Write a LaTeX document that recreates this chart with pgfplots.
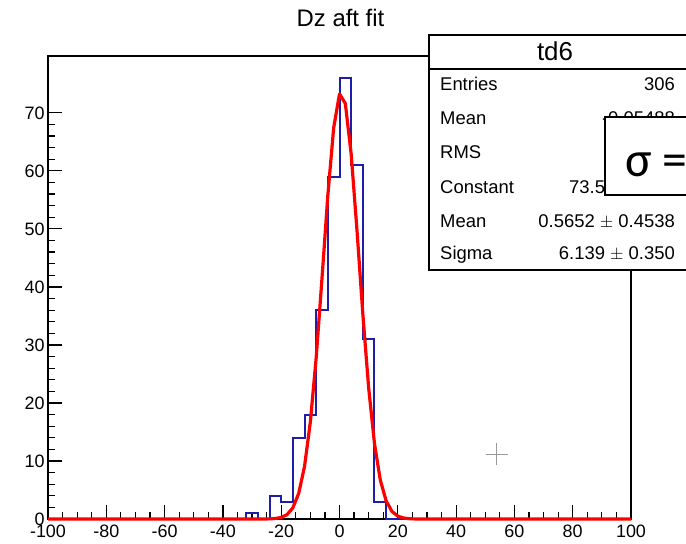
\documentclass[border=0pt]{standalone}
\usepackage{pgfplots}
\pgfplotsset{compat=1.18}
\usepackage{fontspec}
\setmainfont{Liberation Sans}
\newfontfamily\calib{Carlito}
\definecolor{hblue}{RGB}{30,30,170}
\begin{document}
\begin{tikzpicture}[x=1bp,y=1bp]
\path[use as bounding box] (0,0) rectangle (686,544);
\clip (0,0) rectangle (686,544);
\begin{axis}[
  at={(48bp,25bp)}, anchor=south west,
  scale only axis, width=583bp, height=463bp,
  xmin=-100, xmax=100, ymin=0, ymax=79.8,
  xtick={-100,-80,...,100}, ytick={0,10,...,70},
  minor x tick num=3, minor y tick num=4,
  tick align=inside, xtick pos=lower, ytick pos=left,
  major tick length=14bp, minor tick length=7bp,
  every tick/.style={black, line width=1.2bp},
  axis line style={line width=1.3bp},
  /pgf/number format/assume math mode=true,
  ticklabel style={font=\fontsize{18}{20}\selectfont},
  xticklabel style={yshift=-2bp},
  clip=false, axis on top=false,
]
\addplot[const plot, hblue, line width=2bp] coordinates {
(-100,0) (-32,1) (-28,0) (-24,4) (-20,3) (-16,14) (-12,18) (-8,36) (-4,59)
(0,76) (4,61) (8,31) (12,3) (16,0) (100,0)};
\addplot[red, line width=3.2bp, line join=round] coordinates {
(-100,0) (-26,0.005) (-24,0.0245) (-22,0.0857) (-20,0.269) (-18,0.760) (-16,1.931)
(-14,4.410) (-12,9.058) (-10,16.73) (-8,27.80) (-6,41.54) (-4,55.80)
(-2,67.43) (0,73.27) (2,71.60) (4,62.92) (6,49.73) (8,35.34) (10,22.59)
(12,12.98) (14,6.711) (16,3.120) (18,1.305) (20,0.490) (22,0.166)
(24,0.0504) (26,0.01) (100,0)};
\addplot[only marks, mark=+, mark size=11bp, gray!80, line width=1bp] coordinates {(54,11.2)};
\end{axis}
\node[anchor=base, font=\fontsize{24}{26}\selectfont] at (340.5,517) {Dz aft fit};
% stats box
\draw[fill=white, line width=1.3bp] (429,274) rectangle (696,509);
\draw[line width=1.3bp] (429,475) -- (696,475);
\node[anchor=base, font=\fontsize{26}{28}\selectfont] at (555,483) {td6};
\begin{scope}[every node/.style={font=\fontsize{18.5}{20}\selectfont, inner sep=0pt}]
\node[anchor=base west] at (440,453) {Entries};
\node[anchor=base east] at (675,453) {306};
\node[anchor=base west] at (440,419) {Mean};
\node[anchor=base east] at (675,419) {-0.05488};
\node[anchor=base west] at (440,385) {RMS};
\node[anchor=base east] at (675,385) {7.247};
\node[anchor=base west] at (440,350) {Constant};
\node[anchor=base east] at (675,350) {73.58 $\pm$ 5.47};
\node[anchor=base west] at (440,316) {Mean};
\node[anchor=base east] at (675,316) {0.5652 $\pm$ 0.4538};
\node[anchor=base west] at (440,284) {Sigma};
\node[anchor=base east] at (675,284) {6.139 $\pm$ 0.350};
\end{scope}
% sigma annotation box
\draw[fill=white, line width=1.3bp] (605,349) rectangle (700,427);
\node[anchor=base west, inner sep=0pt, font=\calib\fontsize{50}{52}\selectfont] at (625,367) {σ =};
\end{tikzpicture}
\end{document}
